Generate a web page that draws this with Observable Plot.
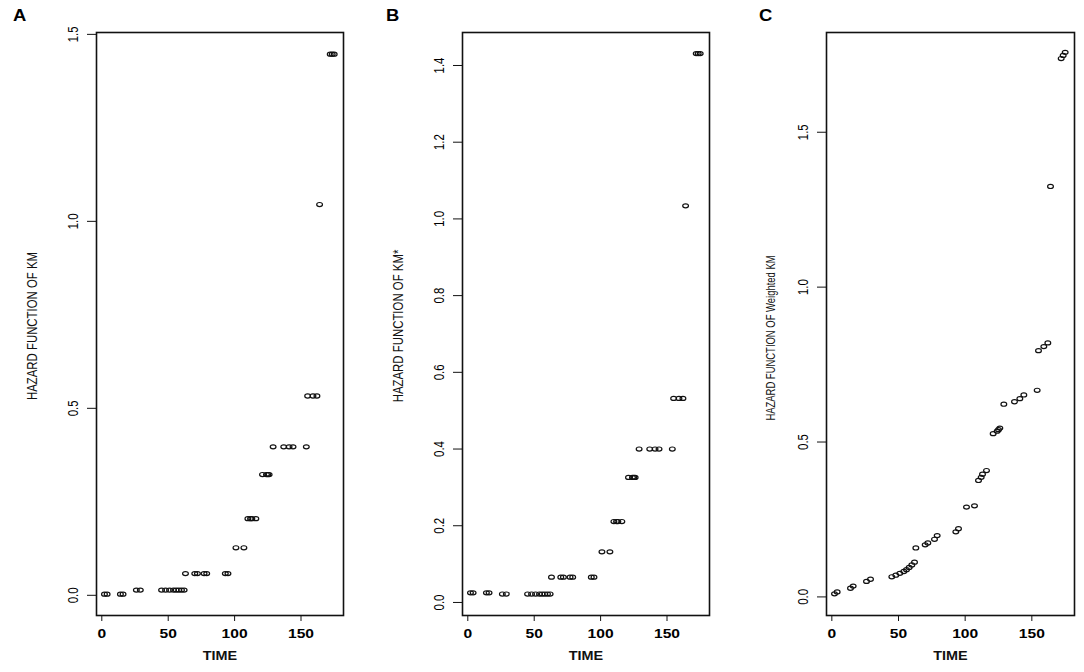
<!DOCTYPE html>
<html><head><meta charset="utf-8">
<script src="https://cdn.jsdelivr.net/npm/d3@7"></script>
<script src="https://cdn.jsdelivr.net/npm/@observablehq/plot@0.6"></script>
<style>
body{margin:0;background:#fff;}
#wrap{position:relative;width:1084px;height:672px;overflow:hidden;background:#fff;}
.panel{position:absolute;top:0;}
.letter{position:absolute;top:7px;font:bold 16px "Liberation Sans",Arial,sans-serif;color:#000;transform:scaleX(1.15);transform-origin:left top;}
</style></head><body><div id="wrap"></div>
<script>
// ---- data ----
const time = [2, 4, 14, 16, 26, 29, 45, 48, 51, 54, 56, 58, 60, 62, 63, 70, 72, 77, 79, 93, 95, 101, 107, 110, 112, 113, 116, 121, 124, 125, 126, 129, 137, 141, 144, 154, 155, 159, 162, 164, 172, 173.5, 175];
const hazardKM = [0.003, 0.003, 0.003, 0.003, 0.014, 0.014, 0.014, 0.014, 0.014, 0.014, 0.014, 0.014, 0.014, 0.014, 0.058, 0.058, 0.058, 0.058, 0.058, 0.058, 0.058, 0.127, 0.127, 0.205, 0.205, 0.205, 0.205, 0.323, 0.323, 0.323, 0.323, 0.397, 0.397, 0.397, 0.397, 0.397, 0.533, 0.533, 0.533, 1.045, 1.447, 1.447, 1.447];
const hazardKMstar = [0.025, 0.025, 0.025, 0.025, 0.022, 0.022, 0.022, 0.022, 0.022, 0.022, 0.022, 0.022, 0.022, 0.022, 0.066, 0.066, 0.066, 0.066, 0.066, 0.066, 0.066, 0.132, 0.132, 0.211, 0.211, 0.211, 0.211, 0.326, 0.326, 0.326, 0.326, 0.400, 0.400, 0.400, 0.400, 0.400, 0.532, 0.532, 0.532, 1.034, 1.431, 1.431, 1.431];
const hazardWeighted = [0.010, 0.016, 0.028, 0.035, 0.050, 0.057, 0.065, 0.070, 0.076, 0.082, 0.088, 0.095, 0.103, 0.112, 0.158, 0.168, 0.174, 0.186, 0.198, 0.210, 0.220, 0.290, 0.294, 0.376, 0.386, 0.396, 0.408, 0.527, 0.535, 0.540, 0.545, 0.622, 0.630, 0.640, 0.652, 0.667, 0.795, 0.808, 0.820, 1.325, 1.738, 1.748, 1.758];
const xTicks = [0, 50, 100, 150];
const yTicksA = [0, 0.5, 1.0, 1.5];
const yTicksB = [0, 0.2, 0.4, 0.6, 0.8, 1.0, 1.2, 1.4];
const yTicksC = [0, 0.5, 1.0, 1.5];
const panelLetters = ["A", "B", "C"];
const yTitles = ["HAZARD FUNCTION OF KM", "HAZARD FUNCTION OF KM*", "HAZARD FUNCTION OF Weighted KM"];
const xTitle = "TIME";

// ---- layout ----
const sans = '"Liberation Sans",Arial,sans-serif';
const panels = [
  {values: hazardKM, ticks: yTicksA, yDomain: [-0.054, 1.505], left: 0, width: 360, mL: 96, mR: 17, titleOff: 64.5, titleDy: 2, titleSize: 15, titleK: 0.76, letterX: 13},
  {values: hazardKMstar, ticks: yTicksB, yDomain: [-0.034, 1.486], left: 362, width: 362, mL: 100, mR: 15, titleOff: 64.5, titleDy: 2, titleSize: 15, titleK: 0.76, letterX: 386},
  {values: hazardWeighted, ticks: yTicksC, yDomain: [-0.06, 1.822], left: 724, width: 360, mL: 102, mR: 10, titleOff: 56, titleDy: 14, titleSize: 13.5, titleK: 0.7, letterX: 759}
];

const ellipse = {
  draw(ctx, size) {
    const r = Math.sqrt(size / Math.PI), rx = r * 1.2, ry = r * 0.85, k = 0.5523;
    ctx.moveTo(rx, 0);
    ctx.bezierCurveTo(rx, ry * k, rx * k, ry, 0, ry);
    ctx.bezierCurveTo(-rx * k, ry, -rx, ry * k, -rx, 0);
    ctx.bezierCurveTo(-rx, -ry * k, -rx * k, -ry, 0, -ry);
    ctx.bezierCurveTo(rx * k, -ry, rx, -ry * k, rx, 0);
    ctx.closePath();
  }
};

function stretch(nodes, factor) {
  nodes.forEach(t => {
    const len = t.getComputedTextLength();
    if (len > 0) {
      t.setAttribute("textLength", (len * factor).toFixed(2));
      t.setAttribute("lengthAdjust", "spacingAndGlyphs");
    }
  });
}

const wrap = document.getElementById("wrap");
panels.forEach((p, i) => {
  const data = time.map((t, j) => ({time: t, hazard: p.values[j]}));
  const svg = Plot.plot({
    width: p.width, height: 672,
    marginLeft: p.mL, marginRight: p.mR, marginTop: 32, marginBottom: 57,
    x: {domain: [-4, 182]},
    y: {domain: p.yDomain},
    style: {background: "transparent", color: "#000"},
    marks: [
      Plot.frame({stroke: "#111", strokeWidth: 1.6}),
      Plot.axisX(xTicks, {tickSize: 6, tickPadding: 8, fontSize: 12, fontWeight: "bold", fontFamily: sans, label: null, stroke: "#111"}),
      Plot.axisY(p.ticks, {tickSize: 9, tickPadding: 10, tickRotate: -90, tickFormat: d3.format(".1f"), fontSize: 15, fontFamily: sans, label: null, stroke: "#111"}),
      Plot.text([yTitles[i]], {frameAnchor: "left", textAnchor: "middle", dx: -p.titleOff, dy: p.titleDy, rotate: -90, fontSize: p.titleSize, fontFamily: sans, fill: "#111", className: "ytitle"}),
      Plot.text([xTitle], {frameAnchor: "bottom", textAnchor: "middle", dy: 44, fontSize: 12, fontWeight: "bold", fontFamily: sans, fill: "#111", className: "xtitle"}),
      Plot.dot(data, {x: "time", y: "hazard", symbol: ellipse, r: 2.4, fill: "none", stroke: "#111", strokeWidth: 1.2})
    ]
  });
  svg.classList.add("panel");
  svg.style.left = p.left + "px";
  wrap.appendChild(svg);
  stretch(svg.querySelectorAll('[aria-label="x-axis tick label"] text'), 1.3);
  stretch(svg.querySelectorAll('.xtitle text'), 1.2);
  stretch(svg.querySelectorAll('[aria-label="y-axis tick label"] text'), 0.76);
  stretch(svg.querySelectorAll('.ytitle text'), p.titleK);
  const L = document.createElement("div");
  L.className = "letter";
  L.style.left = p.letterX + "px";
  L.textContent = panelLetters[i];
  wrap.appendChild(L);
});
</script>
</body></html>
